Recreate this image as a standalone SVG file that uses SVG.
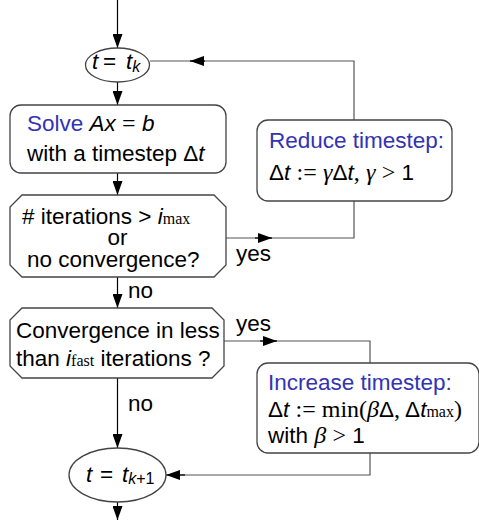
<svg xmlns="http://www.w3.org/2000/svg" width="479" height="520" viewBox="0 0 479 520">
<style>
  .box{fill:#fff;stroke:#444;stroke-width:1.3}
  .ln{fill:none;stroke:#000;stroke-width:1.2}
  .lg{fill:none;stroke:#555;stroke-width:1.2}
  text{font-family:"Liberation Sans",Arial,sans-serif;font-size:22.5px;fill:#000}
  .blue{fill:#3333b3}
  .it{font-style:italic}
  .rm{font-family:"Liberation Serif","Times New Roman",serif;font-size:24px}
  .sub{font-family:"Liberation Serif","Times New Roman",serif;font-size:16px}
  .subs{font-size:16px}
</style>
<defs>
  <marker id="ah" viewBox="0 0 14 10" refX="14" refY="5" markerWidth="14" markerHeight="10" markerUnits="userSpaceOnUse" orient="auto">
    <path d="M0,0 L14,5 L0,10 Z" fill="#000"/>
  </marker>
</defs>
<rect width="479" height="520" fill="#fff"/>
<g id="connectors">
  <line class="ln" x1="117.5" y1="0" x2="117.5" y2="48" marker-end="url(#ah)"/>
  <line class="ln" x1="117.5" y1="82" x2="117.5" y2="105" marker-end="url(#ah)"/>
  <line class="ln" x1="117.5" y1="173" x2="117.5" y2="195" marker-end="url(#ah)"/>
  <line class="ln" x1="117.5" y1="277" x2="117.5" y2="308" marker-end="url(#ah)"/>
  <line class="ln" x1="117.5" y1="378" x2="117.5" y2="448" marker-end="url(#ah)"/>
  <line class="ln" x1="117.5" y1="502" x2="117.5" y2="520" marker-end="url(#ah)"/>
  <polyline class="lg" points="354,120 354,61 190,61"/>
  <line class="ln" x1="205" y1="61" x2="190" y2="61" marker-end="url(#ah)"/>
  <line class="lg" x1="190" y1="61" x2="150" y2="61"/>
  <line class="lg" x1="226" y1="238" x2="272" y2="238"/>
  <line class="ln" x1="255" y1="238" x2="272" y2="238" marker-end="url(#ah)"/>
  <polyline class="lg" points="272,238 354,238 354,201"/>
  <line class="lg" x1="224" y1="341" x2="277" y2="341"/>
  <line class="ln" x1="260" y1="341" x2="277" y2="341" marker-end="url(#ah)"/>
  <polyline class="lg" points="277,341 370,341 370,363"/>
  <polyline class="lg" points="370,453 370,475 180,475"/>
  <line class="ln" x1="185" y1="475" x2="166" y2="475" marker-end="url(#ah)"/>
  <text x="236" y="261">yes</text>
  <text x="236" y="331">yes</text>
  <text x="128" y="298">no</text>
  <text x="128" y="411">no</text>
</g>
<g id="start">
  <ellipse class="box" cx="117.5" cy="65" rx="32" ry="17"/>
  <text y="69"><tspan class="it" x="92">t</tspan><tspan x="103">=</tspan><tspan class="it" x="126">t</tspan><tspan class="it subs" dy="3">k</tspan></text>
</g>
<g id="solve">
  <rect class="box" x="10" y="105" width="216" height="68" rx="11"/>
  <text x="27" y="131"><tspan class="blue">Solve</tspan> <tspan class="it">Ax</tspan> <tspan class="rm">=</tspan> <tspan class="it">b</tspan></text>
  <text x="27" y="161">with a timestep Δ<tspan class="it">t</tspan></text>
</g>
<g id="reduce">
  <rect class="box" x="257" y="120" width="195" height="81" rx="11"/>
  <text x="269" y="148" class="blue">Reduce timestep:</text>
  <text x="269" y="180">Δ<tspan class="it">t</tspan> <tspan class="rm">:=</tspan> <tspan class="rm it">γ</tspan>Δ<tspan class="it">t</tspan><tspan class="rm">,</tspan> <tspan class="rm it">γ</tspan> <tspan class="rm">&gt;</tspan> 1</text>
</g>
<g id="check1">
  <polygon class="box" points="22,195 214,195 226,207 226,265 214,277 22,277 10,265 10,207"/>
  <text x="22" y="224"># iterations &gt; <tspan class="it">i</tspan><tspan class="sub">max</tspan></text>
  <text x="117.5" y="245" text-anchor="middle">or</text>
  <text x="27" y="267">no convergence?</text>
</g>
<g id="check2">
  <polygon class="box" points="22,308 212,308 224,320 224,366 212,378 22,378 10,366 10,320"/>
  <text x="16" y="338">Convergence in less</text>
  <text x="16" y="366">than <tspan class="it">i</tspan><tspan class="sub">fast</tspan> iterations ?</text>
</g>
<g id="increase">
  <rect class="box" x="257" y="363" width="222" height="90" rx="11"/>
  <text x="268" y="390" class="blue">Increase timestep:</text>
  <text x="268" y="417">Δ<tspan class="it">t</tspan> <tspan class="rm">:= min(</tspan><tspan class="rm it">β</tspan>Δ<tspan class="rm">,</tspan> Δ<tspan class="it">t</tspan><tspan class="sub">max</tspan><tspan class="rm">)</tspan></text>
  <text x="268" y="443">with <tspan class="rm it">β</tspan> <tspan class="rm">&gt;</tspan> 1</text>
</g>
<g id="end">
  <ellipse class="box" cx="117.5" cy="475" rx="48.5" ry="27"/>
  <text y="482"><tspan class="it" x="86">t</tspan><tspan x="100">=</tspan><tspan class="it" x="122">t</tspan><tspan class="it subs" dy="2">k</tspan><tspan class="subs">+1</tspan></text>
</g>
</svg>
